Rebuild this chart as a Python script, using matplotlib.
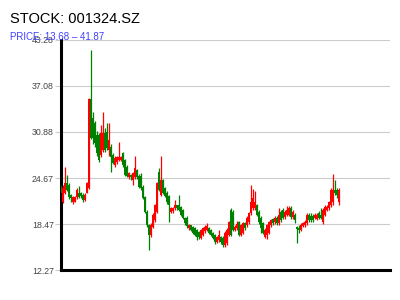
import matplotlib
matplotlib.use("Agg")
import matplotlib.pyplot as plt
import numpy as np

title = "STOCK: 001324.SZ"
subtitle = "PRICE: 13.68 \u2013 41.87"
yticks = [12.27, 18.47, 24.67, 30.88, 37.08, 43.28]

opens = [23.6, 21.4, 22.7, 24.0, 23.7, 22.4, 21.4, 21.5, 22.1, 22.6,
         22.6, 22.4, 21.7, 22.7, 23.3, 35.3, 32.8, 32.1, 30.5, 30.5,
         27.8, 28.4, 30.7, 30.9, 28.4, 28.9, 27.8, 26.4, 26.8, 27.1,
         27.1, 28.0, 27.1, 26.2, 24.8, 25.1, 24.4, 24.8, 25.7, 25.0,
         24.9, 23.5, 22.1, 20.1, 18.3, 17.0, 18.1, 19.0, 20.1, 25.5,
         22.4, 24.4, 23.3, 22.7, 22.2, 20.1, 20.2, 20.6, 21.0, 21.0,
         20.8, 20.4, 19.3, 19.3, 17.9, 18.3, 18.1, 17.9, 17.7, 17.4,
         16.6, 17.0, 17.5, 17.7, 17.9, 17.7, 17.3, 17.0, 16.0, 16.3,
         16.7, 16.6, 15.6, 15.9, 17.0, 20.4, 20.1, 17.7, 17.9, 18.7,
         17.0, 17.3, 18.6, 18.3, 18.7, 19.9, 20.6, 20.6, 21.0, 20.1,
         19.3, 18.6, 16.7, 17.0, 17.3, 18.3, 19.1, 18.7, 19.3, 18.6,
         20.1, 20.4, 19.4, 19.7, 19.7, 20.6, 19.4, 19.7, 18.0, 17.9,
         17.7, 18.2, 18.3, 18.6, 19.7, 19.6, 19.6, 19.3, 19.1, 20.0,
         19.7, 18.7, 19.7, 20.4, 20.6, 21.0, 21.4, 23.1, 23.1, 21.4]
highs = [23.8, 23.7, 26.2, 25.1, 24.0, 22.5, 22.2, 22.3, 23.3, 23.6,
         22.8, 22.6, 22.6, 24.1, 35.4, 41.87, 33.6, 32.4, 31.0, 30.7,
         31.8, 33.6, 31.4, 32.1, 32.1, 29.2, 28.0, 27.6, 27.7, 29.5,
         27.7, 28.2, 27.3, 26.4, 25.5, 25.2, 25.5, 27.6, 25.9, 25.2,
         25.3, 23.7, 22.3, 20.3, 18.5, 18.6, 19.9, 21.2, 24.2, 26.0,
         27.6, 24.6, 23.5, 22.9, 22.4, 20.8, 20.7, 21.7, 21.1, 22.4,
         20.9, 20.5, 19.4, 19.5, 18.5, 18.4, 18.2, 18.1, 17.8, 17.5,
         17.8, 18.1, 18.4, 18.6, 18.0, 17.8, 17.4, 17.1, 16.9, 17.6,
         16.9, 16.8, 17.5, 17.9, 18.9, 20.6, 20.3, 18.3, 18.9, 18.9,
         18.5, 18.8, 18.8, 19.6, 20.1, 23.7, 23.2, 22.9, 21.2, 20.3,
         19.5, 18.8, 17.9, 18.5, 18.9, 19.2, 19.3, 19.5, 19.5, 20.6,
         20.3, 20.6, 20.3, 20.9, 20.9, 20.9, 20.3, 19.9, 18.2, 18.4,
         18.6, 18.8, 19.0, 20.0, 19.9, 20.0, 19.8, 20.0, 19.9, 20.2,
         20.6, 20.6, 21.0, 21.0, 21.6, 23.3, 25.2, 24.4, 23.3, 23.3]
lows = [22.4, 21.3, 22.5, 22.9, 21.9, 21.4, 21.2, 21.4, 21.9, 22.0,
        22.0, 21.5, 21.6, 22.6, 23.2, 29.9, 29.2, 28.9, 27.6, 26.8,
        27.5, 28.2, 28.2, 28.5, 27.6, 25.5, 26.5, 26.2, 26.6, 27.0,
        26.9, 26.2, 24.9, 24.8, 24.6, 24.4, 23.7, 24.6, 24.6, 23.3,
        23.0, 21.8, 19.9, 18.0, 14.97, 16.7, 17.9, 18.8, 19.9, 22.9,
        22.2, 22.5, 22.1, 21.2, 18.7, 19.9, 20.0, 20.4, 20.4, 20.2,
        19.5, 19.1, 18.4, 17.9, 17.7, 17.5, 17.1, 16.8, 16.3, 16.5,
        16.4, 16.8, 17.3, 17.5, 17.1, 16.8, 16.4, 15.8, 15.9, 16.1,
        15.8, 15.4, 15.4, 15.7, 16.8, 16.8, 17.5, 17.5, 17.7, 16.8,
        16.8, 17.1, 17.7, 18.1, 18.5, 19.7, 20.4, 20.4, 19.5, 18.5,
        17.3, 17.1, 16.6, 16.5, 17.1, 18.1, 18.4, 18.5, 18.4, 18.4,
        18.8, 19.1, 19.2, 19.5, 19.5, 19.2, 19.2, 18.6, 15.9, 17.3,
        17.5, 18.0, 18.1, 18.4, 18.8, 18.8, 18.8, 19.1, 19.0, 19.1,
        19.1, 18.5, 19.5, 20.2, 20.4, 20.8, 21.0, 22.4, 22.0, 21.0]
closes = [22.7, 23.3, 24.0, 23.1, 22.1, 22.0, 22.1, 22.1, 23.0, 22.1,
          22.2, 21.7, 22.4, 24.0, 35.3, 30.1, 30.1, 29.4, 28.0, 27.1,
          30.7, 30.7, 28.4, 28.7, 29.8, 27.5, 26.7, 27.4, 27.5, 27.5,
          27.5, 26.4, 25.1, 24.9, 25.3, 24.8, 25.3, 26.0, 24.8, 23.5,
          23.3, 22.0, 20.1, 18.3, 17.0, 18.3, 19.7, 21.0, 24.0, 23.1,
          24.4, 22.7, 22.3, 21.4, 21.0, 20.6, 20.6, 21.0, 20.6, 20.4,
          19.7, 19.3, 18.6, 18.2, 18.3, 17.7, 17.3, 17.0, 16.7, 16.7,
          17.7, 17.9, 18.1, 18.2, 17.3, 17.0, 16.6, 16.0, 16.7, 17.0,
          16.0, 15.6, 17.3, 17.7, 18.7, 17.0, 17.7, 18.1, 18.5, 17.0,
          18.3, 18.6, 17.9, 19.3, 19.9, 21.4, 22.0, 21.4, 19.7, 18.7,
          17.9, 17.3, 17.7, 18.3, 18.7, 19.0, 18.6, 19.3, 18.6, 19.7,
          19.0, 19.3, 20.1, 20.4, 20.6, 19.4, 20.1, 19.0, 17.8, 17.7,
          18.3, 18.6, 18.7, 19.7, 19.0, 19.0, 19.0, 19.7, 19.7, 19.3,
          19.3, 20.4, 20.8, 20.8, 21.4, 23.1, 23.1, 22.6, 22.4, 23.1]

fig = plt.figure(figsize=(4, 3), dpi=100)
ax = fig.add_axes([0.1525, 0.1, 0.8225, 0.7667])

o = np.array(opens); h = np.array(highs); l = np.array(lows); c = np.array(closes)
x = np.arange(len(o))
up = c >= o
colors = np.where(up, "#ff0000", "#008000")

ax.vlines(x, l, h, colors=colors, linewidth=0.9, zorder=2)
bottoms = np.minimum(o, c)
heights = np.maximum(np.abs(c - o), 0.15)
ax.bar(x, heights, bottom=bottoms, width=1.0, color=colors, linewidth=0, zorder=3)

ax.set_xlim(0.25, 164.75)
ax.set_ylim(yticks[0], yticks[-1])
ax.set_yticks(yticks)
ax.set_yticklabels([f"{v:.2f}" for v in yticks], fontsize=6.3, color="#444444",
                   family="Liberation Sans")
ax.tick_params(axis="y", length=4, width=0.8, color="#cccccc", pad=1)
ax.set_xticks([])
ax.grid(axis="y", color="#cccccc", linewidth=0.8, zorder=0)
ax.set_axisbelow(True)

for s in ["top", "right"]:
    ax.spines[s].set_visible(False)
ax.spines["left"].set_linewidth(2.2)
ax.spines["bottom"].set_linewidth(2.2)
ax.spines["left"].set_color("black")
ax.spines["bottom"].set_color("black")

fig.text(0.025, 0.937, title, fontsize=10.5, color="black", family="Liberation Sans",
         va="center", ha="left")
fig.text(0.025, 0.875, subtitle, fontsize=7, color="#4040ff", family="Liberation Sans",
         va="center", ha="left")

fig.savefig("out.png", dpi=100, facecolor="white")
